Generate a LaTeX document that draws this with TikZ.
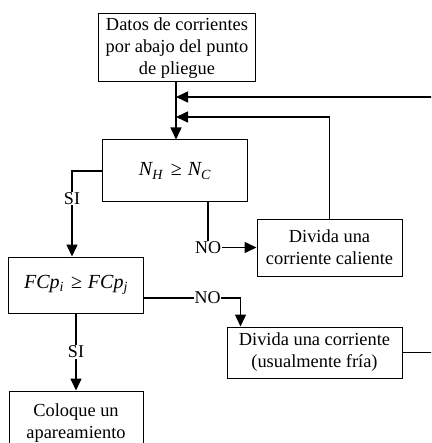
\documentclass[tikz,border=0pt]{standalone}
\usepackage{fontspec}
\setmainfont{Liberation Serif}
\usetikzlibrary{arrows.meta,positioning}

\begin{document}
\begin{tikzpicture}[x=1pt,y=1pt,>={Triangle[length=12pt,width=11pt]},
  line width=1.5pt,
  caja/.style={draw,line width=1pt,fill=white,align=center,inner sep=2pt,
    font=\fontsize{18.4}{22}\selectfont},
  cond/.style={caja,font=\fontsize{20}{24}\selectfont\itshape},
  etiq/.style={fill=white,inner sep=0.5pt,font=\fontsize{18}{20}\selectfont}]
 \useasboundingbox (0,0) rectangle (431,-443);
 \clip (0,0) rectangle (431,-443);
 % cajas
 \node[caja,minimum width=157pt,minimum height=68pt] (datos) at (177,-48)
  {Datos de corrientes\\por abajo del punto\\de pliegue};
 \node[cond,minimum width=145pt,minimum height=62pt] (nhnc) at (175,-171)
  {N\textsubscript{H}\hspace{0.4em}{\upshape≥}\hspace{0.3em}N\textsubscript{C}};
 \node[caja,minimum width=145pt,minimum height=57pt] (caliente) at (329.5,-247.5)
  {Divida una\\corriente caliente};
 \node[cond,minimum width=135pt,minimum height=56pt,anchor=center] (fcp) at (76,-285)
  {FCp\textsubscript{i}\hspace{0.35em}{\upshape≥}\hspace{0.3em}FCp\textsubscript{j}};
 \node[caja,minimum width=175pt,minimum height=51pt] (fria) at (314.5,-352.5)
  {Divida una corriente\\(usualmente fría)};
 \node[caja,minimum width=134pt,minimum height=64pt] (coloque) at (76,-423)
  {Coloque un\\apareamiento};
 % puntos de union
 \coordinate (j1) at (176,-97);
 \coordinate (j2) at (176,-117);
 \coordinate (r1) at (445,-97);
 % conectores
 \draw[->] (datos.south -| j1) -- (nhnc.north -| j1);
 \draw[->] (caliente.north) |- (j2);
 \draw[->] (fria.east) -| (r1) -- (j1);
 \draw[->] (nhnc.west) -| ([xshift=-4pt]fcp.north)
  node[etiq,pos=0.66] {SI};
 \draw[->] ([xshift=33pt]nhnc.south) |- (caliente.west)
  node[etiq,pos=0.5] {NO};
 \draw[->] ([yshift=-13pt]fcp.east) -| ([xshift=-74pt]fria.north)
  node[etiq,pos=0.33] {NO};
 \draw[->] (fcp.south) -- (coloque.north)
  node[etiq,midway] {SI};
\end{tikzpicture}
\end{document}
